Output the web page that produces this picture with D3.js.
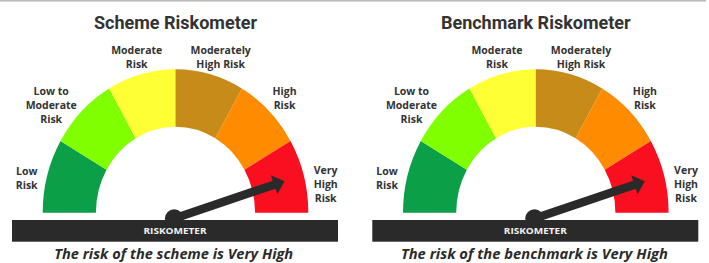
<!DOCTYPE html>
<html>
<head>
<meta charset="utf-8">
<script src="https://cdn.jsdelivr.net/npm/d3@7"></script>
<style>
  html, body { margin: 0; padding: 0; background: #fff; }
  svg { display: block; }
</style>
</head>
<body>
<svg id="chart" width="709" height="263"></svg>
<script>
// ---- data ----
const categories = ["Low Risk", "Low to Moderate Risk", "Moderate Risk", "Moderately High Risk", "High Risk", "Very High Risk"];
const labelLines = [["Low", "Risk"], ["Low to", "Moderate", "Risk"], ["Moderate", "Risk"], ["Moderately", "High Risk"], ["High", "Risk"], ["Very", "High", "Risk"]];
const segmentColors = ["#0b9f48", "#80ff00", "#ffff35", "#c68b19", "#ff8b00", "#f90f1f"];
const titles = ["Scheme Riskometer", "Benchmark Riskometer"];
const captions = ["The risk of the scheme is Very High", "The risk of the benchmark is Very High"];
const riskLevels = [5.5, 5.5]; // needle position on the 0..6 scale (middle of "Very High")
const barLabel = "RISKOMETER";

// ---- layout ----
const svg = d3.select("#chart");
const panelOffsets = [0, 360.3];
const cx0 = 175.5, cy0 = 212.7;
const outerR = 132.8, innerR = 79.6, yStretch = 1.08;
const textColor = "#333333";
const dark = "#2b2a2a";

// top rule
svg.append("rect").attr("x", 0).attr("y", 0).attr("width", 706).attr("height", 1.6).attr("fill", "#bcbcbc");

const angle = d3.scaleLinear().domain([0, categories.length]).range([-Math.PI / 2, Math.PI / 2]);
const arc = d3.arc().innerRadius(innerR).outerRadius(outerR);

const labelPos = [
  {dx: -148.8, y: 170.7},
  {dx: -124.3, y: 91},
  {dx: -38.8, y: 50},
  {dx: 45.2, y: 50},
  {dx: 109.1, y: 91},
  {dx: 150.2, y: 170}
];

titles.forEach((title, p) => {
  const ox = panelOffsets[p];
  const cx = cx0 + ox;
  const g = svg.append("g");

  g.append("text")
    .attr("x", cx).attr("y", 28.8)
    .attr("text-anchor", "middle")
    .attr("font-family", "Roboto, 'Open Sans', sans-serif")
    .attr("font-weight", 700)
    .attr("font-size", 18)
    .attr("fill", textColor)
    .text(title);

  const gauge = g.append("g").attr("transform", `translate(${cx},${cy0}) scale(1,${yStretch})`);
  gauge.selectAll("path")
    .data(categories)
    .join("path")
    .attr("d", (d, i) => arc({startAngle: angle(i), endAngle: angle(i + 1)}))
    .attr("fill", (d, i) => segmentColors[i]);

  categories.forEach((c, i) => {
    const t = g.append("text")
      .attr("text-anchor", "middle")
      .attr("font-family", "'Open Sans', sans-serif")
      .attr("font-weight", 700)
      .attr("font-size", 10.5)
      .attr("fill", textColor);
    labelLines[i].forEach((line, k) => {
      t.append("tspan")
        .attr("x", cx + labelPos[i].dx)
        .attr("y", labelPos[i].y + k * 14 + 3.8)
        .text(line);
    });
  });

  // needle
  const a = angle(riskLevels[p]);
  const tipR = outerR * 0.85;
  const tip = [cx + tipR * Math.sin(a), cy0 - yStretch * tipR * Math.cos(a)];
  const hub = [cx - 1.3, cy0 + 5.8];
  const dxn = tip[0] - hub[0], dyn = tip[1] - hub[1];
  const len = Math.hypot(dxn, dyn);
  const ux = dxn / len, uy = dyn / len;
  const px = -uy, py = ux;
  const headL = 11, headW = 10, shaftW = 4.2;
  const bx = tip[0] - ux * headL, by = tip[1] - uy * headL;
  const pts = [
    [hub[0] + px * shaftW, hub[1] + py * shaftW],
    [bx + px * shaftW, by + py * shaftW],
    [bx + px * headW, by + py * headW],
    tip,
    [bx - px * headW, by - py * headW],
    [bx - px * shaftW, by - py * shaftW],
    [hub[0] - px * shaftW, hub[1] - py * shaftW]
  ];
  g.append("path").attr("d", d3.line()(pts) + "Z").attr("fill", dark);
  g.append("circle").attr("cx", hub[0]).attr("cy", hub[1]).attr("r", 9.3).attr("fill", dark);

  g.append("rect")
    .attr("x", 12 + ox).attr("y", 220)
    .attr("width", 326).attr("height", 21.7)
    .attr("fill", dark);
  g.append("text")
    .attr("x", cx - 0.5).attr("y", 234.4)
    .attr("text-anchor", "middle")
    .attr("font-family", "'Open Sans', sans-serif")
    .attr("font-weight", 700)
    .attr("font-size", 9.6)
    .attr("textLength", 63)
    .attr("lengthAdjust", "spacingAndGlyphs")
    .attr("fill", "#f2f2f2")
    .text(barLabel);

  const capW = [239, 267][p];
  g.append("text")
    .attr("x", cx - (p === 0 ? 1.8 : 1.4)).attr("y", 259.2)
    .attr("text-anchor", "middle")
    .attr("font-family", "'Open Sans', sans-serif")
    .attr("font-weight", 700)
    .attr("font-style", "italic")
    .attr("font-size", 15)
    .attr("textLength", capW)
    .attr("lengthAdjust", "spacingAndGlyphs")
    .attr("fill", "#2b2b2b")
    .text(captions[p]);
});
</script>
</body>
</html>
